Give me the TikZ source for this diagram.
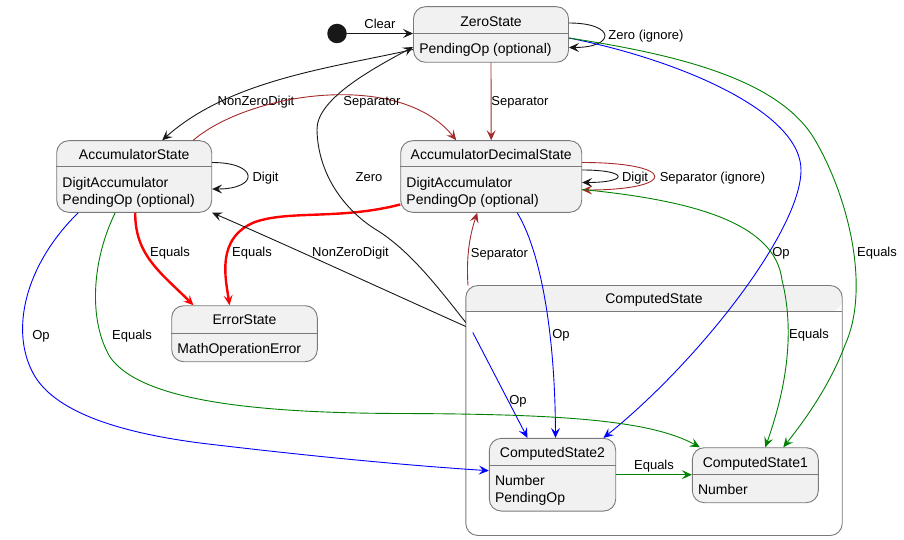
\documentclass[tikz,border=0pt]{standalone}
\usepackage{fontspec}
\setmainfont{Liberation Sans}
\usetikzlibrary{arrows.meta, positioning, calc}

\definecolor{statefill}{HTML}{F1F1F1}
\definecolor{stateline}{HTML}{7A7A7A}
\definecolor{edgeblack}{HTML}{181818}
\definecolor{sepbrown}{HTML}{A52A2A}
\definecolor{opblue}{HTML}{0000FF}
\definecolor{eqgreen}{HTML}{008000}
\definecolor{errred}{HTML}{FF0000}

\begin{document}
\begin{tikzpicture}[
    x=1pt, y=-1pt,
    statest/.style={draw=stateline, fill=statefill, rounded corners=12pt,
                    line width=0.9pt, inner sep=0pt},
    compst/.style={fill=white, inner sep=0pt,
                   minimum width=376, minimum height=249.6},
    divline/.style={draw=stateline, line width=0.9pt},
    titlest/.style={font=\fontsize{14}{17}\selectfont, anchor=base, inner sep=0pt},
    bodyst/.style={font=\fontsize{14}{17}\selectfont, anchor=north west,
                   align=left, inner sep=0pt},
    startst/.style={circle, fill=edgeblack, minimum size=19.5pt, inner sep=0pt},
    lbl/.style={font=\fontsize{13}{15}\selectfont, inner sep=0pt,
                text height=9.5pt, text depth=2.5pt},
    arr/.style={-{Stealth[length=10pt, width=9pt, inset=4pt]}, line width=0.9pt, draw=edgeblack},
    errarr/.style={arr, draw=errred, line width=2.4pt},
  ]
  \useasboundingbox (0,0) rectangle (904,540);

  %% Composite state (drawn first, below everything)
  \node[compst] (comp) at (654,410.5) {};
  \fill[statefill] ([yshift=-26]comp.north west) [rounded corners=12pt]
    -- (comp.north west) -- (comp.north east) -- ([yshift=-26]comp.north east)
    [sharp corners] -- cycle;
  \draw[stateline, line width=0.9pt, rounded corners=12pt]
    (comp.north west) rectangle (comp.south east);
  \draw[divline] ([yshift=-26]comp.north west) -- ([yshift=-26]comp.north east);
  \node[titlest] (compT) at ([yshift=-18]comp.north) {ComputedState};
  \coordinate (opsrc) at ([xshift=7,yshift=-47]comp.north west);

  %% Start point and top state
  \node[startst] (start) at (337,33.5) {};
  \node[statest, minimum width=155, minimum height=55.6] (zero) at (491,34.5) {};
  \draw[divline] ([yshift=-27]zero.north west) -- ([yshift=-27]zero.north east);
  \node[titlest] (zeroT) at ([yshift=-20]zero.north) {ZeroState};
  \node[bodyst] (zeroB) at ([xshift=6,yshift=-37]zero.north west) {PendingOp (optional)};

  %% Middle row
  \node[statest, minimum width=155, minimum height=71.6] (acc) at (134.2,176.5) {};
  \draw[divline] ([yshift=-26.5]acc.north west) -- ([yshift=-26.5]acc.north east);
  \node[titlest] (accT) at ([yshift=-19.5]acc.north) {AccumulatorState};
  \node[bodyst] (accB) at ([xshift=6,yshift=-36.5]acc.north west)
    {DigitAccumulator\\PendingOp (optional)};

  \node[statest, minimum width=181, minimum height=71.6] (dec) at (491.2,176.5) {};
  \draw[divline] ([yshift=-26.5]dec.north west) -- ([yshift=-26.5]dec.north east);
  \node[titlest] (decT) at ([yshift=-19.5]dec.north) {AccumulatorDecimalState};
  \node[bodyst] (decB) at ([xshift=6,yshift=-36.5]dec.north west)
    {DigitAccumulator\\PendingOp (optional)};

  %% Error state
  \node[statest, minimum width=145.6, minimum height=56] (err) at (244.5,333.7) {};
  \draw[divline] ([yshift=-28]err.north west) -- ([yshift=-28]err.north east);
  \node[titlest] (errT) at ([yshift=-19.5]err.north) {ErrorState};
  \node[bodyst] (errB) at ([xshift=6,yshift=-37.5]err.north west) {MathOperationError};

  %% Substates of ComputedState
  \node[statest, minimum width=126.4, minimum height=72.7] (cs2) at (552.5,474.7) {};
  \draw[divline] ([yshift=-28]cs2.north west) -- ([yshift=-28]cs2.north east);
  \node[titlest] (cs2T) at ([yshift=-19.5]cs2.north) {ComputedState2};
  \node[bodyst] (cs2B) at ([xshift=6,yshift=-37.5]cs2.north west) {Number\\PendingOp};

  \node[statest, minimum width=126, minimum height=55] (cs1) at (755.3,475.2) {};
  \draw[divline] ([yshift=-27.5]cs1.north west) -- ([yshift=-27.5]cs1.north east);
  \node[titlest] (cs1T) at ([yshift=-20]cs1.north) {ComputedState1};
  \node[bodyst] (cs1B) at ([xshift=6,yshift=-37]cs1.north west) {Number};

  %% Transitions
  \draw[arr] (start) -- (start -| zero.west) node[lbl] at (380,25) {Clear};
  \draw[arr] ([yshift=11.5]zero.east) to[out=0, in=0, distance=47] ([yshift=-13]zero.east)
    node[lbl] at (646,36) {Zero (ignore)};
  \draw[arr] ([yshift=-15]zero.west) .. controls (330,68) and (230,80) .. ([xshift=28]acc.north)
    node[lbl] at (256,102.5) {NonZeroDigit};
  \draw[arr, draw=sepbrown] (zero.south) -- (dec.north) node[lbl] at (520,102.5) {Separator};
  \draw[arr, draw=sepbrown] ([xshift=59]acc.north) .. controls (250,92) and (400,70) .. ([xshift=-35]dec.north)
    node[lbl] at (372,102.5) {Separator};
  \draw[arr] ([yshift=14]acc.east) to[out=0, in=0, distance=47] ([yshift=-12.5]acc.east)
    node[lbl] at (265.5,178) {Digit};
  \draw[arr] ([yshift=6.5]dec.east) to[out=0, in=0, distance=47] ([yshift=-6]dec.east)
    node[lbl] at (635,178) {Digit};
  \draw[arr, draw=sepbrown] ([yshift=14]dec.east) to[out=0, in=0, distance=96] ([yshift=-13.5]dec.east)
    node[lbl] at (712.5,178) {Separator (ignore)};
  \draw[errarr] ([xshift=1]acc.south) .. controls (135,255) and (160,272) .. ([xshift=-51]err.north)
    node[lbl] at (170,253) {Equals};
  \draw[errarr] ([yshift=-28]dec.west) .. controls (340,220) and (290,210) .. (255,222)
    .. controls (215,238) and (226,280) .. ([xshift=-15]err.north)
    node[lbl] at (252,253) {Equals};
  \draw[arr] ([yshift=-37]comp.north west) .. controls (440,290) and (410,250) .. (375,229)
    .. controls (345,210) and (318,175) .. (317,130)
    .. controls (316,100) and (370,70) .. ([yshift=-12.5]zero.west)
    node[lbl] at (369,178) {Zero};
  \draw[arr] ([yshift=-41]comp.north west) .. controls (400,297) and (280,242) .. (acc.south east)
    node[lbl] at (350.5,253) {NonZeroDigit};
  \draw[arr, draw=sepbrown] ([xshift=-186]comp.north) .. controls (466,255) and (470,235) .. ([xshift=-14]dec.south)
    node[lbl] at (499.5,254) {Separator};
  \draw[arr, draw=opblue] ([xshift=26]dec.south) .. controls (540,250) and (555,330) .. ([xshift=3]cs2.north)
    node[lbl] at (561,335) {Op};
  \draw[arr, draw=opblue] (opsrc) -- ([xshift=-25]cs2.north) node[lbl] at (518,401) {Op};
  \draw[arr, draw=opblue] ([yshift=-3.5]zero.east) .. controls (680,60) and (801,112) .. (801,170)
    .. controls (801,230) and (700,360) .. ([xshift=51]cs2.north)
    node[lbl] at (781,253) {Op};
  \draw[arr, draw=eqgreen] ([yshift=-3.5]zero.east) .. controls (680,55) and (780,80) .. (815,140)
    .. controls (850,200) and (870,290) .. (845,345)
    .. controls (830,385) and (805,420) .. ([xshift=28]cs1.north)
    node[lbl] at (877,253) {Equals};
  \draw[arr, draw=eqgreen] ([yshift=-13]dec.east) .. controls (690,200) and (775,222) .. (782,280)
    .. controls (797,340) and (782,400) .. ([xshift=10]cs1.north)
    node[lbl] at (809,335) {Equals};
  \draw[arr, draw=opblue] ([xshift=-56]acc.south) .. controls (25,265) and (10,330) .. (33,373)
    .. controls (50,405) and (100,430) .. (200,443)
    .. controls (300,455) and (400,465) .. ([yshift=4]cs2.west)
    node[lbl] at (41,336) {Op};
  \draw[arr, draw=eqgreen] ([xshift=-19]acc.south) .. controls (92,260) and (88,320) .. (110,357)
    .. controls (140,400) and (250,413) .. (400,413.5)
    .. controls (560,414) and (650,420) .. ([xshift=8]cs1.north west)
    node[lbl] at (132,336) {Equals};
  \draw[arr, draw=eqgreen] (cs2.east) -- (cs2.east -| cs1.west) node[lbl] at (654,466) {Equals};
\end{tikzpicture}
\end{document}
